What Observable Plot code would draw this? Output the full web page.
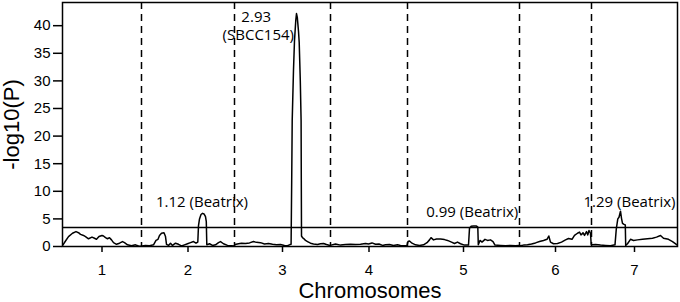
<!DOCTYPE html>
<html><head><meta charset="utf-8">
<script src="https://cdn.jsdelivr.net/npm/d3@7"></script>
<script src="https://cdn.jsdelivr.net/npm/@observablehq/plot@0.6"></script>
<style>html,body{margin:0;padding:0;background:#fff;}</style>
</head><body><div id="chart"></div>
<script>
// Chromosomes and their lengths (cM, cumulative genome axis)
const chromosomes = ["1", "2", "3", "4", "5", "6", "7"];
const chromLengths = [79, 93, 96, 77, 112, 72, 86];

// Genome scan: cumulative position (cM) and -log10(P)
const chr1Pos = [0.5,3,6,10,13.5,16,18,21,23,26,29.5,32,34,36.5,39.5,41,43,45,47,49,51,54,57,60,62,65,69,73,76,78.5];
const chr1LogP = [0.3,1.0,1.8,2.4,2.7,2.5,2.2,2.0,1.8,1.4,1.7,1.5,1.3,1.8,2.0,1.9,1.6,1.4,1.6,1.2,0.7,0.4,0.6,0.9,0.7,0.3,0.15,0.3,0.1,0.05];
const chr2Pos = [79.5,83,87,91,93.5,95.5,97,99,101.5,103,104,106,108,110,113,116,119,122,125,128,131,133.5,135.3,136,137,138.5,140,141.5,143,143.8,144.3,147,150,153,156,158,161,165,169,171.5];
const chr2LogP = [0.1,0.2,0.15,0.3,1.1,1.3,2.0,2.4,2.5,1.8,0.4,0.2,0.6,0.2,0.6,0.4,0.1,0.3,0.5,0.7,0.9,0.6,0.8,3.8,5.0,5.8,6.0,5.9,5.4,4.5,0.3,0.5,0.2,0.3,0.7,0.9,0.5,0.2,0.15,0.1];
const chr3Pos = [172.5,176,179,183,187,191,194,198,202,206,210,214,218,222,225,227.5,228.6,229.2,229.7,231,232,233.3,234,234.8,236,236.7,237.8,238.6,238.8,239,240,241.5,243,245,248,251,255,258,261,264,267.5];
const chr3LogP = [0.35,0.5,0.6,0.55,0.65,0.9,0.75,0.7,0.45,0.55,0.4,0.3,0.35,0.2,0.15,0.35,0.4,12,22.8,32,37.3,41,42.2,41.5,39,37,30,22.8,12,1.9,1.6,1.4,1.1,0.9,0.6,0.45,0.35,0.5,0.55,0.35,0.2];
const chr4Pos = [268.5,273,278,283,288,293,298,303,306,309.5,313,316.5,320,323,327,331,335,338,342,344.5];
const chr4LogP = [0.25,0.45,0.25,0.35,0.4,0.35,0.4,0.55,0.45,0.65,0.4,0.45,0.2,0.3,0.35,0.2,0.3,0.2,0.15,0.2];
const chr5Pos = [345.5,347,349.5,353,357,361,364.5,367,368.5,371,374,378,382,385,389,392,395,398,402,406,407,408.5,411,414,415.3,415.8,417.5,419.5,422.5,425,428,430.5,432.5,438,443,448,453,456.5];
const chr5LogP = [0.9,1.0,0.6,0.3,0.2,0.3,0.7,1.2,1.6,1.2,1.35,1.35,1.25,1.1,0.8,0.55,0.8,0.5,0.25,0.25,3.3,3.65,3.7,3.7,3.5,0.3,1.1,0.8,1.3,1.1,1.2,0.9,0.25,0.2,0.15,0.2,0.15,0.2];
const chr6Pos = [457.5,461,465,469,473,477,481,484.5,486.3,488,491,495,499,503,506,509.5,512,515,517,518.5,520.5,522,524,525.3,526.5,528,528.7];
const chr6LogP = [0.15,0.25,0.3,0.45,0.65,0.9,1.1,1.3,1.9,0.8,0.5,0.55,0.8,1.2,1.45,1.3,2.0,2.4,2.6,2.1,2.5,2.0,2.7,2.1,2.9,2.4,0.4];
const chr7Pos = [529.5,533,538,543,548,552.5,553.8,555.3,556.5,558,559,560,561.5,562.8,563.2,565,568,571,575,580,585,590,594,598,601,606,610,614.5];
const chr7LogP = [0.3,0.35,0.25,0.2,0.15,0.3,3.2,5.0,5.3,6.4,5.1,4.2,4.0,3.9,0.2,0.5,1.3,1.1,1.2,1.3,1.4,1.5,1.7,2.0,1.5,1.3,0.9,0.3];

const threshold = 3.45;
const yTicks = [0, 5, 10, 15, 20, 25, 30, 35, 40];

// Peak annotations
const annotationLabels = ["2.93", "(SBCC154)", "1.12 (Beatrix)", "0.99 (Beatrix)", "1.29 (Beatrix)"];
const annotationPos = [193.7, 195.8, 139.5, 409.7, 567];
const annotationLogP = [41.5, 38.2, 8.0, 6.2, 8.0];

// Build tables
const allPos = [chr1Pos, chr2Pos, chr3Pos, chr4Pos, chr5Pos, chr6Pos, chr7Pos];
const allLogP = [chr1LogP, chr2LogP, chr3LogP, chr4LogP, chr5LogP, chr6LogP, chr7LogP];
const scan = allPos.flatMap((ps, c) => ps.map((p, i) => ({chrom: chromosomes[c], pos: p, logP: allLogP[c][i]})));
const bounds = [0, ...d3.cumsum(chromLengths)];
const total = bounds[bounds.length - 1];
const mids = chromLengths.map((l, i) => bounds[i] + l / 2);
const annotations = annotationLabels.map((t, i) => ({text: t, pos: annotationPos[i], logP: annotationLogP[i]}));

const chart = Plot.plot({
  width: 680,
  height: 302,
  marginLeft: 62,
  marginRight: 3,
  marginTop: 2,
  marginBottom: 56,
  style: {fontFamily: "'Liberation Sans', Arial, sans-serif", fontSize: "15px", color: "black", background: "white"},
  x: {domain: [0, total]},
  y: {domain: [0, 44.2]},
  marks: [
    Plot.ruleX(bounds.slice(1, -1), {stroke: "black", strokeWidth: 1.5, strokeDasharray: "7,5"}),
    Plot.ruleY([threshold], {stroke: "black", strokeWidth: 1.5}),
    Plot.line(scan, {x: "pos", y: "logP", stroke: "black", strokeWidth: 1.5}),
    Plot.frame({stroke: "black", strokeWidth: 1.5}),
    Plot.axisY({ticks: yTicks, tickSize: 9, tickPadding: 3, strokeWidth: 1.5, fontSize: 15, label: null}),
    Plot.axisX({ticks: mids, tickFormat: d => chromosomes[mids.indexOf(d)], tickSize: 6, tickPadding: 12, strokeWidth: 1.5, fontSize: 15, label: null}),
    Plot.text(annotations, {x: "pos", y: "logP", text: "text", fontFamily: "'Open Sans', sans-serif", fontSize: 15, fill: "black"}),
    Plot.text(["-log10(P)"], {frameAnchor: "left", textAnchor: "middle", lineAnchor: "middle", rotate: -90, dx: -51, fontSize: 22, fill: "black"}),
    Plot.text(["Chromosomes"], {frameAnchor: "bottom", textAnchor: "middle", lineAnchor: "middle", dy: 44, fontSize: 22, fill: "black"})
  ]
});
document.getElementById("chart").appendChild(chart);
</script>
</body></html>
